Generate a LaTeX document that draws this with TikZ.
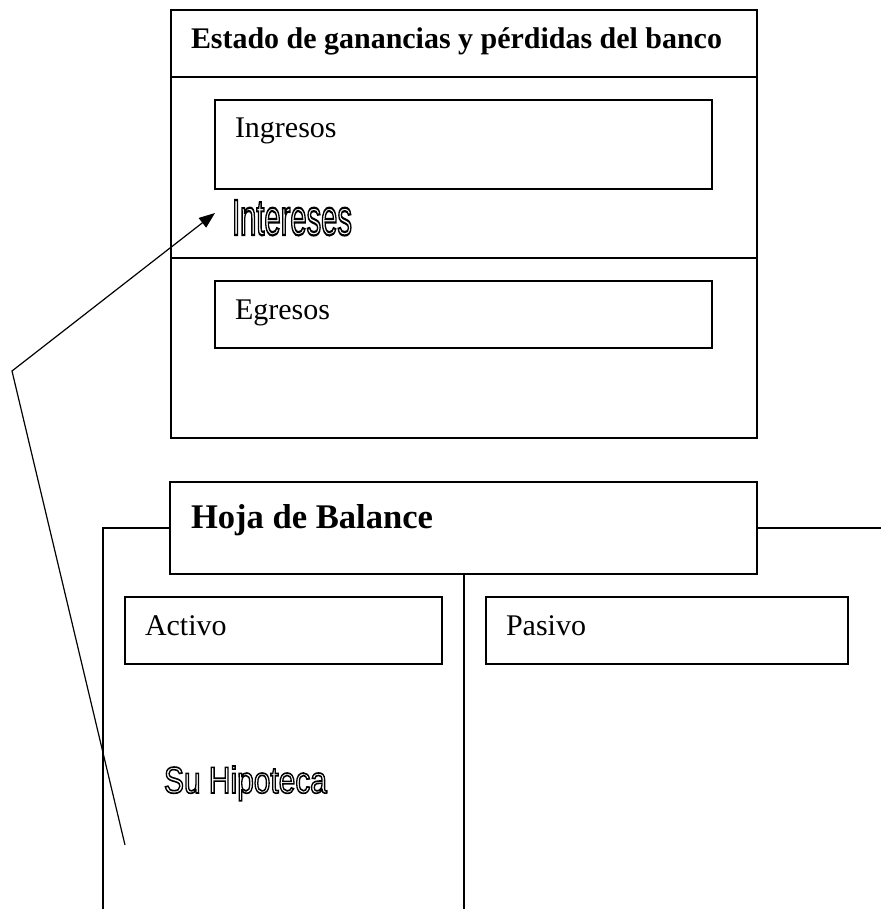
\documentclass[tikz,border=0pt]{standalone}
\usepackage{fontspec}
\usepackage{graphicx}
\setmainfont{Liberation Serif}
\newfontfamily\arialf{Liberation Sans}
\usetikzlibrary{arrows.meta}
\newcommand\outltxt[1]{\special{pdf:literal direct 1 Tr 1.3 w}#1\special{pdf:literal direct 0 Tr}}
\begin{document}
\begin{tikzpicture}[x=1pt,y=-1pt,
  frame/.style={draw=black,line width=1.3pt},
  boxn/.style={draw=black,line width=1.3pt,anchor=north west,inner sep=0pt,outer sep=0pt},
  lbl/.style={anchor=base west,inner sep=0pt,outer sep=0pt,font=\fontsize{30}{36}\selectfont},
  ttl/.style={anchor=base west,inner sep=0pt,outer sep=0pt},
  conn/.style={draw=black,line width=1.2pt}]
\useasboundingbox (0,0) rectangle (881,909);
% top statement box
\node[boxn,minimum width=586pt,minimum height=428pt] (est) at (171,10) {};
\draw[frame] (171,77) -- (757,77);
\draw[frame] (171,258) -- (757,258);
\node[ttl] (esttl) at (191,49) {\resizebox{531pt}{!}{\bfseries\fontsize{30}{36}\selectfont Estado de ganancias y pérdidas del banco}};
\node[boxn,minimum width=497pt,minimum height=89pt] (ing) at (215,100) {};
\node[lbl] (ingt) at (235,138) {Ingresos};
\node[ttl] (int) at (232,235) {\resizebox{120pt}{35pt}{\arialf\fontsize{30}{36}\selectfont\outltxt{Intereses}}};
\node[boxn,minimum width=497pt,minimum height=67pt] (egr) at (215,281) {};
\node[lbl] (egrt) at (235,319) {Egresos};
% balance sheet
\node[boxn,minimum width=587pt,minimum height=92pt] (hoja) at (170,482) {};
\node[ttl] (hojat) at (191,528) {\resizebox{242pt}{!}{\bfseries\fontsize{35}{42}\selectfont Hoja de Balance}};
\draw[frame] (103,909) -- (103,528) -- (hoja.west |- 0,528);
\draw[frame] (hoja.east |- 0,528) -- (881,528);
\draw[frame] (hoja.south -| 464,0) -- (464,909);
\node[boxn,minimum width=317pt,minimum height=67pt] (act) at (125,597) {};
\node[lbl] (actt) at (145,635) {Activo};
\node[boxn,minimum width=362pt,minimum height=67pt] (pas) at (486,597) {};
\node[lbl] (past) at (506,635) {Pasivo};
\node[ttl] (hip) at (164,793) {\resizebox{163pt}{27pt}{\arialf\fontsize{30}{36}\selectfont\outltxt{Su Hipoteca}}};
% arrow
\coordinate (from) at (125,845);
\coordinate (bend) at (12,371);
\coordinate (tip) at (215,213);
\draw[conn,-{Triangle[length=16pt,width=12pt]}] (from) -- (bend) -- (tip);
\end{tikzpicture}
\end{document}
